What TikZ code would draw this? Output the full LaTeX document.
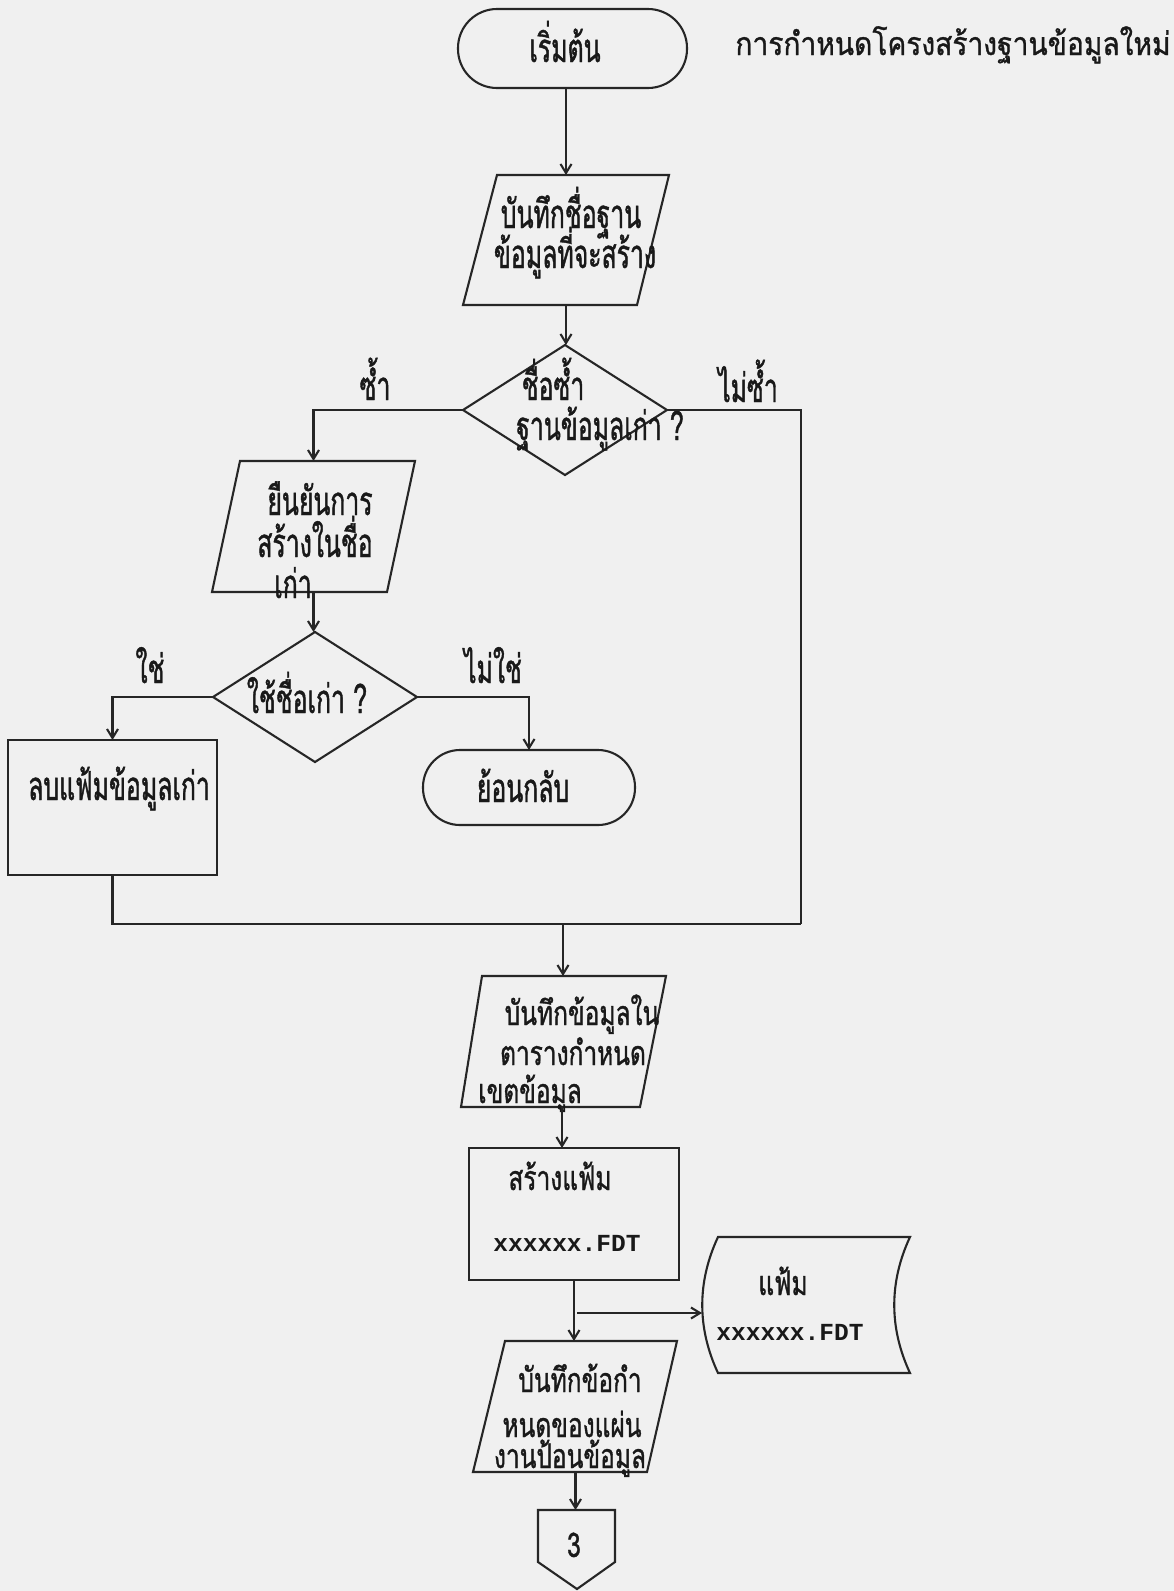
\documentclass[tikz,border=0pt]{standalone}
\usepackage{fontspec}
\newfontfamily\thA[Script=Thai,FakeStretch=0.62,FakeBold=1]{Loma}
\newfontfamily\thB[Script=Thai,FakeStretch=0.72,FakeBold=1]{Loma}
\newfontfamily\thC[Script=Thai,FakeStretch=0.88,FakeBold=1]{Loma}
\newfontfamily\monoF{Liberation Mono}
\usetikzlibrary{shapes.geometric,arrows.meta,calc}
\begin{document}
\begin{tikzpicture}[x=1pt,y=-1pt,line width=2.1pt,color=black!85,
  diam/.style={draw, diamond, minimum width=204pt, minimum height=130pt, inner sep=0pt, outer sep=0pt},
  boxn/.style={draw, rectangle, inner sep=0pt, outer sep=0pt},
  blank/.style={rectangle, inner sep=0pt, outer sep=0pt},
  arr/.style={-{Straight Barb[length=9pt,width=11pt]}},
  ta/.style={inner sep=0pt, anchor=base, text=black!90, font=\thA\fontsize{40}{46}\selectfont},
  tb/.style={inner sep=0pt, anchor=base, text=black!90, font=\thB\fontsize{34}{40}\selectfont},
  tc/.style={inner sep=0pt, anchor=base, text=black!90, font=\thC\fontsize{32}{38}\selectfont},
  tm/.style={inner sep=0pt, anchor=base, text=black!90, font=\monoF\bfseries\fontsize{24.5}{28}\selectfont}]
\fill[black!6] (0,0) rectangle (1174,1591);
\useasboundingbox (0,0) rectangle (1174,1591);

% start
\node[boxn, rounded corners=39pt, minimum width=229pt, minimum height=79pt] (start) at (572.5,48.5) {};
\node[ta] (tStart) at (565,62) {เริ่มต้น};
\node[tc] (title) at (953,55) {การกำหนดโครงสร้างฐานข้อมูลใหม่};

% P1
\node[blank, minimum width=172pt, minimum height=130pt] (p1) at (566,240) {};
\draw (497,175) -- (669,175) -- (637,305) -- (463,305) -- cycle;
\node[ta] (p1a) at (571,228) {บันทึกชื่อฐาน};
\node[ta] (p1b) at (575,268) {ข้อมูลที่จะสร้าง};

% D1
\node[diam] (d1) at (565,410) {};
\node[ta] (d1a) at (553,400) {ชื่อซ้ำ};
\node[ta] (d1b) at (600,440) {ฐานข้อมูลเก่า ?};
\node[ta] (lSame) at (375,400) {ซ้ำ};
\node[ta] (lNotSame) at (748,402) {ไม่ซ้ำ};

% P2
\node[blank, minimum width=174pt, minimum height=131pt] (p2) at (313.5,526.5) {};
\draw (240,461) -- (415,461) -- (387,592) -- (212,592) -- cycle;
\node[ta] (p2a) at (320,515) {ยืนยันการ};
\node[ta] (p2b) at (315,557) {สร้างในชื่อ};
\node[ta] (p2c) at (293,598) {เก่า};

% D2
\node[diam] (d2) at (315,697) {};
\node[ta] (d2a) at (307,713) {ใช้ชื่อเก่า ?};
\node[ta] (lYes) at (150,683) {ใช่};
\node[ta] (lNo) at (493,683) {ไม่ใช่};

% delete box and back terminal
\node[boxn, minimum width=209pt, minimum height=135pt] (del) at (112.5,807.5) {};
\node[ta] (delT) at (119,800) {ลบแฟ้มข้อมูลเก่า};
\node[boxn, rounded corners=37pt, minimum width=212pt, minimum height=75pt] (back) at (529,787.5) {};
\node[ta] (backT) at (523,802) {ย้อนกลับ};

\coordinate (mergeR) at (801,924);
\coordinate (merge) at (563,924);

% P3
\node[blank, minimum width=180pt, minimum height=131pt] (p3) at (562,1041.5) {};
\draw (482,976) -- (666,976) -- (640,1107) -- (461,1107) -- cycle;
\node[tb] (p3a) at (582,1025) {บันทึกข้อมูลใน};
\node[tb] (p3b) at (573,1065) {ตารางกำหนด};
\node[tb] (p3c) at (530,1103) {เขตข้อมูล};

% create file box
\node[boxn, minimum width=210pt, minimum height=132pt] (create) at (574,1214) {};
\node[tb] (crA) at (560,1190) {สร้างแฟ้ม};
\node[tm] (crB) at (567,1251) {xxxxxx.FDT};

% stored file
\node[blank, minimum width=208pt, minimum height=136pt] (file) at (806,1305) {};
\draw (718,1237) -- (910,1237) .. controls (889,1282) and (889,1328) .. (910,1373)
  -- (718,1373) .. controls (697,1328) and (697,1282) .. (718,1237) -- cycle;
\node[tb] (fiA) at (783,1295) {แฟ้ม};
\node[tm] (fiB) at (790,1340) {xxxxxx.FDT};
\coordinate (br) at (577,1313);

% P4
\node[blank, minimum width=173pt, minimum height=131pt] (p4) at (575.5,1406.5) {};
\draw (505,1341) -- (677,1341) -- (647,1472) -- (473,1472) -- cycle;
\node[tb] (p4a) at (580,1392) {บันทึกข้อกำ};
\node[tb] (p4b) at (572,1437) {หนดของแผ่น};
\node[tb] (p4c) at (570,1468) {งานป้อนข้อมูล};

% off-page connector
\node[blank, minimum width=77pt, minimum height=80pt] (off) at (576.5,1550) {};
\draw (538,1510) -- (615,1510) -- (615,1562) -- (577,1589) -- (538,1562) -- cycle;
\node[tb] (offT) at (574,1557) {3};

% connectors
\draw[arr] (start.south -| p1.north) -- (p1.north);
\draw[arr] (p1.south) -- (p1.south |- d1.north);
\draw[arr] (d1.west) -| (p2.north);
\draw (d1.east) -| (mergeR);
\draw[arr] (p2.south) -- (p2.south |- d2.north);
\draw[arr] (d2.west) -| (del.north);
\draw[arr] (d2.east) -| (back.north);
\draw (del.south) |- (mergeR);
\draw[arr] (merge) -- (merge |- p3.north);
\draw[arr] (p3.south) -- (p3.south |- create.north);
\draw[arr] (create.south) -- (create.south |- p4.north);
\draw[arr] (br) -- (br -| file.west);
\draw[arr] (p4.south) -- (p4.south |- off.north);
\end{tikzpicture}
\end{document}
